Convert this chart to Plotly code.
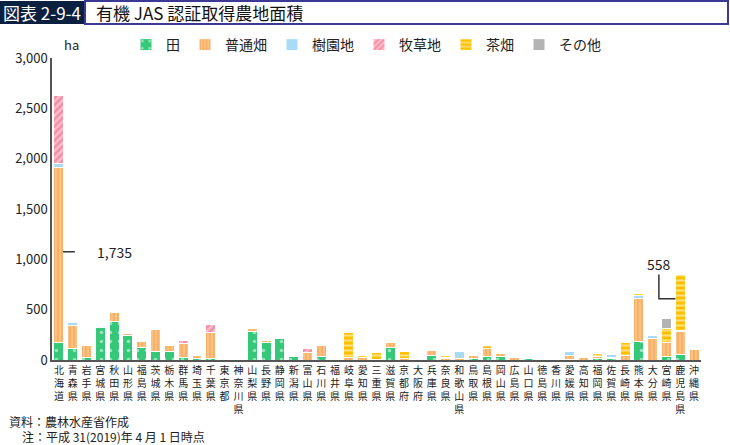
import plotly.graph_objects as go

prefectures = [
    "北海道", "青森県", "岩手県", "宮城県", "秋田県", "山形県", "福島県", "茨城県",
    "栃木県", "群馬県", "埼玉県", "千葉県", "東京都", "神奈川県", "山梨県", "長野県",
    "静岡県", "新潟県", "富山県", "石川県", "福井県", "岐阜県", "愛知県", "三重県",
    "滋賀県", "京都府", "大阪府", "兵庫県", "奈良県", "和歌山県", "鳥取県", "島根県",
    "岡山県", "広島県", "山口県", "徳島県", "香川県", "愛媛県", "高知県", "福岡県",
    "佐賀県", "長崎県", "熊本県", "大分県", "宮崎県", "鹿児島県", "沖縄県",
]

# ha
rice = [175, 115, 27, 320, 380, 245, 125, 85, 83, 28, 13, 17, 0, 0, 283, 175,
        218, 33, 0, 33, 0, 0, 0, 0, 125, 0, 0, 45, 0, 0, 15, 30,
        35, 0, 13, 0, 0, 5, 0, 12, 12, 0, 185, 0, 30, 50, 0]
upland = [1735, 230, 115, 3, 90, 22, 60, 215, 57, 140, 35, 258, 2, 3, 25, 22,
          0, 0, 78, 108, 0, 20, 22, 8, 45, 12, 0, 45, 13, 12, 25, 80,
          30, 20, 0, 2, 0, 35, 22, 25, 15, 45, 425, 215, 140, 230, 105]
orchard = [45, 25, 0, 0, 0, 0, 0, 0, 0, 0, 0, 0, 0, 0, 0, 0,
           0, 0, 0, 0, 0, 0, 0, 0, 0, 0, 0, 0, 12, 68, 0, 0,
           0, 0, 0, 0, 0, 45, 0, 0, 25, 0, 30, 25, 0, 10, 0]
pasture = [670, 0, 0, 0, 0, 0, 0, 0, 0, 30, 0, 82, 0, 0, 0, 0,
           0, 0, 33, 0, 0, 0, 0, 0, 0, 0, 0, 0, 0, 0, 0, 0,
           0, 0, 0, 0, 0, 0, 0, 0, 0, 0, 0, 0, 0, 0, 0]
tea = [0, 0, 0, 0, 0, 0, 0, 0, 0, 0, 0, 0, 0, 0, 0, 0,
       0, 0, 0, 0, 0, 255, 25, 65, 0, 70, 0, 0, 20, 0, 0, 35,
       0, 0, 0, 0, 0, 0, 0, 25, 0, 125, 25, 0, 140, 558, 0]
other = [0, 0, 0, 0, 0, 0, 0, 0, 0, 0, 0, 0, 0, 0, 0, 0,
         0, 0, 0, 0, 0, 0, 0, 0, 0, 0, 0, 0, 0, 0, 0, 0,
         0, 0, 0, 0, 0, 0, 0, 0, 0, 0, 0, 0, 100, 0, 0]

W, H = 730, 445
L, R, T, B = 52, 29, 58, 85


def px(x):
    return (x - L) / (W - L - R)


def py(y):
    return (H - B - y) / (H - T - B)


def nz(values):
    return [v if v else None for v in values]


series = [
    ("田", rice, dict(shape=".", bgcolor="#34c878", fgcolor="#ffffff", size=9, solidity=0.12)),
    ("普通畑", upland, dict(shape="|", bgcolor="#fcc183", fgcolor="#f5983c", size=4, solidity=0.4)),
    ("樹園地", orchard, None),
    ("牧草地", pasture, dict(shape="/", bgcolor="#fcc0cc", fgcolor="#f2587a", size=5, solidity=0.5)),
    ("茶畑", tea, dict(shape="-", bgcolor="#ffc000", fgcolor="#ffffff", size=5, solidity=0.4)),
    ("その他", other, None),
]
solid = {"樹園地": "#a8dcf6", "その他": "#b4b4b4"}

labels = ["<br>".join(name) for name in prefectures]

fig = go.Figure()
for name, values, pattern in series:
    marker = dict(line=dict(color="#ffffff", width=1))
    if pattern:
        marker["color"] = pattern["bgcolor"]
        marker["pattern"] = pattern
    else:
        marker["color"] = solid[name]
    fig.add_trace(go.Bar(name=name, x=list(range(len(prefectures))), y=nz(values), marker=marker))

fig.update_layout(
    width=W, height=H,
    margin=dict(l=L, r=R, t=T, b=B, autoexpand=False),
    barmode="stack", bargap=0.28,
    paper_bgcolor="#ffffff", plot_bgcolor="#ffffff",
    font=dict(family="Noto Sans CJK JP", size=13, color="#222222"),
    showlegend=True,
    legend=dict(orientation="h", x=px(366), xanchor="center", y=py(45), yanchor="middle",
                font=dict(size=14), itemwidth=30, traceorder="normal"),
    xaxis=dict(tickmode="array", tickvals=list(range(len(prefectures))), ticktext=labels,
               tickangle=0, tickfont=dict(size=10), showline=True, linecolor="#555555",
               linewidth=1.5, ticks="", automargin=False,
               range=[-0.5, len(prefectures) - 0.5], fixedrange=True),
    yaxis=dict(range=[0, 3000], dtick=500, tickformat=",", showline=True, linecolor="#555555",
               linewidth=1.5, showgrid=False, zeroline=False, ticks="", automargin=False,
               tickfont=dict(size=13)),
)

shapes = [
    dict(type="rect", xref="paper", yref="paper", x0=px(0), x1=px(85), y0=py(24), y1=py(1),
         fillcolor="#0b1f3f", line=dict(width=0), layer="above"),
    dict(type="rect", xref="paper", yref="paper", x0=px(85), x1=px(728), y0=py(24), y1=py(1),
         fillcolor="rgba(0,0,0,0)", line=dict(color="#3a3a96", width=2)),
    dict(type="line", xref="x", yref="y", x0=0.3, x1=1.15, y0=1075, y1=1075,
         line=dict(color="#333333", width=1.5)),
    dict(type="path", xref="x", yref="y", path="M 43.45 850 L 43.45 608 L 44.65 608",
         line=dict(color="#333333", width=1.5)),
]
fig.update_layout(shapes=shapes)

annotations = [
    dict(text="図表 2-9-4", x=px(42), y=py(12.5), font=dict(size=17, color="#ffffff")),
    dict(text="有機 JAS 認証取得農地面積", x=px(94), y=py(12.5), xanchor="left",
         font=dict(size=17, color="#111111")),
    dict(text="ha", x=px(62), y=py(44), xanchor="left", font=dict(size=13)),
    dict(text="資料：農林水産省作成", x=px(7), y=py(421), xanchor="left", font=dict(size=12)),
    dict(text="注：平成 31(2019)年 4 月 1 日時点", x=px(20), y=py(436), xanchor="left",
         font=dict(size=12)),
]
for a in annotations:
    a.setdefault("xref", "paper")
    a.setdefault("yref", "paper")
    a.setdefault("xanchor", "center")
    a["yanchor"] = "middle"
    a["showarrow"] = False
    fig.add_annotation(**a)

fig.add_annotation(text="1,735", x=2.6, y=1075, xref="x", yref="y", xanchor="left",
                   yanchor="middle", showarrow=False, font=dict(size=14))
fig.add_annotation(text="558", x=43.45, y=950, xref="x", yref="y", xanchor="center",
                   yanchor="middle", showarrow=False, font=dict(size=14))

# the page's default body margin would push the figure 8px right and down
fig.write_html("out.html", config={"displayModeBar": False},
               post_script="document.body.style.margin = '0';")
